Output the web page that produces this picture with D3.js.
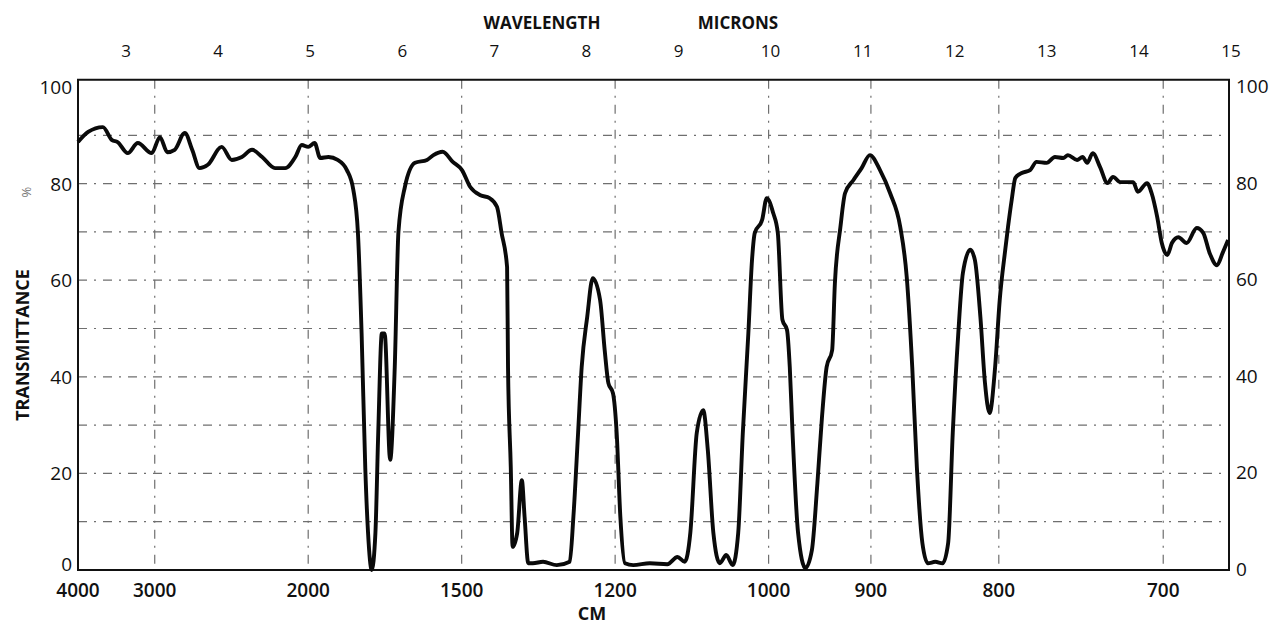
<!DOCTYPE html>
<html>
<head>
<meta charset="utf-8">
<script src="https://cdn.jsdelivr.net/npm/d3@7"></script>
<style>
  body { margin: 0; background: #fff; }
  text { font-family: "Open Sans", "DejaVu Sans", sans-serif; fill: #111; }
</style>
</head>
<body>
<div id="chart"></div>
<script>
// spectrum: wavelength (microns) and % transmittance
const MICRONS = [
  2.50, 2.61, 2.77, 2.87, 2.93, 3.04, 3.15, 3.30, 3.39, 3.47, 3.55, 3.66, 3.74, 3.82, 3.91,
  4.06, 4.17, 4.28, 4.39, 4.50, 4.64, 4.75, 4.86, 4.93, 5.00, 5.07, 5.13, 5.22, 5.32, 5.42,
  5.49, 5.54, 5.58, 5.62, 5.65, 5.69, 5.73, 5.76, 5.80, 5.83, 5.89, 5.94, 5.98, 6.05, 6.16,
  6.29, 6.36, 6.46, 6.57, 6.67, 6.76, 6.87, 6.97, 7.05, 7.10, 7.16, 7.17, 7.20, 7.22, 7.27,
  7.32, 7.35, 7.39, 7.44, 7.55, 7.70, 7.84, 7.88, 7.93, 7.97, 8.03, 8.09, 8.17, 8.22, 8.26,
  8.31, 8.35, 8.39, 8.44, 8.53, 8.71, 8.90, 9.01, 9.09, 9.15, 9.22, 9.29, 9.34, 9.40, 9.47,
  9.54, 9.61, 9.67, 9.72, 9.78, 9.82, 9.85, 9.93, 9.98, 10.05, 10.10, 10.15, 10.20, 10.23, 10.26,
  10.32, 10.40, 10.47, 10.53, 10.58, 10.63, 10.69, 10.72, 10.78, 10.83, 10.92, 11.01, 11.10, 11.21, 11.32,
  11.43, 11.50, 11.56, 11.61, 11.67, 11.73, 11.81, 11.89, 11.95, 12.00, 12.06, 12.11, 12.19, 12.24, 12.30,
  12.35, 12.40, 12.46, 12.51, 12.57, 12.60, 12.64, 12.68, 12.75, 12.84, 12.91, 13.02, 13.11, 13.20, 13.25,
  13.35, 13.41, 13.46, 13.52, 13.60, 13.68, 13.74, 13.82, 13.96, 14.01, 14.11, 14.16, 14.22, 14.27, 14.33,
  14.38, 14.45, 14.54, 14.65, 14.72, 14.79, 14.87, 14.93, 14.99
];
const TRANSMITTANCE = [
  88.6, 90.7, 91.7, 89.0, 88.6, 86.3, 88.4, 86.3, 89.6, 86.5, 87.0, 90.5, 87.0, 83.2, 83.9,
  87.6, 84.9, 85.5, 87.0, 85.5, 83.2, 83.2, 85.5, 88.0, 87.6, 88.4, 85.3, 85.5, 84.9, 82.8,
  78.7, 69.8, 49.0, 21.0, 7.7, 0.0, 7.7, 28.0, 49.0, 49.0, 22.8, 42.0, 70.0, 79.3, 84.3,
  84.9, 85.9, 86.6, 84.5, 82.8, 79.3, 77.6, 77.0, 75.2, 69.8, 62.7, 42.0, 21.3, 4.8, 7.7,
  18.6, 11.0, 1.4, 1.4, 1.7, 1.0, 1.7, 11.0, 28.0, 42.0, 52.4, 60.4, 55.9, 45.5, 38.7,
  36.6, 28.4, 11.0, 1.4, 1.0, 1.4, 1.2, 2.7, 1.7, 7.7, 28.4, 33.1, 24.8, 7.7, 1.4,
  3.1, 1.0, 7.7, 28.4, 49.0, 64.2, 69.8, 72.5, 77.0, 73.9, 69.8, 51.8, 49.7, 42.0, 28.4,
  7.7, 0.4, 4.1, 18.0, 31.7, 42.0, 45.5, 59.4, 71.0, 78.0, 80.7, 83.2, 85.9, 82.8, 78.0,
  71.0, 60.7, 42.0, 21.3, 5.6, 1.4, 1.7, 1.4, 5.6, 28.4, 49.0, 61.5, 66.3, 64.2, 52.4,
  38.7, 32.5, 42.0, 55.9, 66.3, 71.0, 76.6, 81.2, 82.2, 82.8, 84.5, 84.3, 85.5, 85.3, 85.9,
  84.9, 85.5, 84.3, 86.3, 83.4, 80.1, 81.4, 80.3, 80.3, 78.3, 80.1, 78.0, 73.1, 67.7, 65.2,
  67.7, 68.9, 67.7, 70.8, 69.8, 65.6, 63.1, 65.6, 68.3
];

const MICRON_TICKS = [3, 4, 5, 6, 7, 8, 9, 10, 11, 12, 13, 14, 15];
const WAVENUMBER_TICKS = [4000, 3000, 2000, 1500, 1200, 1000, 900, 800, 700];
const PERCENT_TICKS = [0, 20, 40, 60, 80, 100];
const GRID_PERCENT = [10, 20, 30, 40, 50, 60, 70, 80, 90];

var width = 1281, height = 628;
var margin = {left: 78, right: 52, top: 87, bottom: 58};

var svg = d3.select("#chart")
  .append("svg")
  .attr("width", width)
  .attr("height", height);

var x = d3.scaleLinear()
  .domain([2.5, 15])
  .range([margin.left, width - margin.right]);

var y = d3.scaleLinear()
  .domain([0, 100])
  .range([height - margin.bottom, margin.top]);

// grid
var grid = svg.append("g")
  .attr("stroke", "#333")
  .attr("stroke-width", 1.2)
  .attr("stroke-dasharray", "9,7,2,7")
  .attr("opacity", 0.7);

grid.selectAll("line.h")
  .data(GRID_PERCENT)
  .enter()
  .append("line")
  .attr("x1", x(2.5))
  .attr("x2", x(15))
  .attr("y1", function(d) { return y(d); })
  .attr("y2", function(d) { return y(d); });

grid.selectAll("line.v")
  .data(WAVENUMBER_TICKS.slice(1))
  .enter()
  .append("line")
  .attr("x1", function(d) { return x(1e4 / d); })
  .attr("x2", function(d) { return x(1e4 / d); })
  .attr("y1", y(101.5))
  .attr("y2", y(0));

// frame
svg.append("rect")
  .attr("x", x(2.5))
  .attr("y", y(101.5))
  .attr("width", x(15) - x(2.5))
  .attr("height", y(0) - y(101.5))
  .attr("fill", "none")
  .attr("stroke", "#111")
  .attr("stroke-width", 2);

// spectrum
var line = d3.line()
  .x(function(d) { return x(d[0]); })
  .y(function(d) { return y(d[1]); })
  .curve(d3.curveMonotoneX);

svg.append("path")
  .datum(d3.zip(MICRONS, TRANSMITTANCE))
  .attr("d", line)
  .attr("fill", "none")
  .attr("stroke", "#0a0a0a")
  .attr("stroke-width", 3.9)
  .attr("stroke-linejoin", "round");

// top axis: microns
svg.append("g").selectAll("text")
  .data(MICRON_TICKS)
  .enter()
  .append("text")
  .text(function(d) { return d; })
  .attr("x", function(d) { return x(d) + 2; })
  .attr("y", 57)
  .style("text-anchor", "middle")
  .style("font-size", "17px");

svg.append("text")
  .text("WAVELENGTH")
  .attr("x", 542)
  .attr("y", 29)
  .style("text-anchor", "middle")
  .style("font-size", "17px")
  .style("font-weight", "700");

svg.append("text")
  .text("MICRONS")
  .attr("x", 738)
  .attr("y", 29)
  .style("text-anchor", "middle")
  .style("font-size", "17px")
  .style("font-weight", "700");

// bottom axis: cm-1
svg.append("g").selectAll("text")
  .data(WAVENUMBER_TICKS)
  .enter()
  .append("text")
  .text(function(d) { return d; })
  .attr("x", function(d) { return x(1e4 / d); })
  .attr("y", 597)
  .style("text-anchor", "middle")
  .style("font-size", "19px")
  .style("font-weight", "600");

svg.append("text")
  .text("CM")
  .attr("x", 592)
  .attr("y", 620)
  .style("text-anchor", "middle")
  .style("font-size", "18px")
  .style("font-weight", "700");

// left and right % axes
svg.append("g").selectAll("text")
  .data(PERCENT_TICKS)
  .enter()
  .append("text")
  .text(function(d) { return d; })
  .attr("x", x(2.5) - 6)
  .attr("y", function(d) { return y(d) + (d === 0 ? 1 : 7); })
  .style("text-anchor", "end")
  .style("font-size", "19px");

svg.append("g").selectAll("text")
  .data(PERCENT_TICKS)
  .enter()
  .append("text")
  .text(function(d) { return d; })
  .attr("x", x(15) + 7)
  .attr("y", function(d) { return y(d) + 6; })
  .style("text-anchor", "start")
  .style("font-size", "19px");

svg.append("text")
  .text("TRANSMITTANCE")
  .attr("transform", "translate(29," + 345 + ") rotate(-90)")
  .style("text-anchor", "middle")
  .style("font-size", "18px")
  .style("font-weight", "700");

svg.append("text")
  .text("%")
  .attr("transform", "translate(31,192) rotate(-90)")
  .style("text-anchor", "middle")
  .style("font-size", "13px")
  .style("fill", "#777");
</script>
</body>
</html>
